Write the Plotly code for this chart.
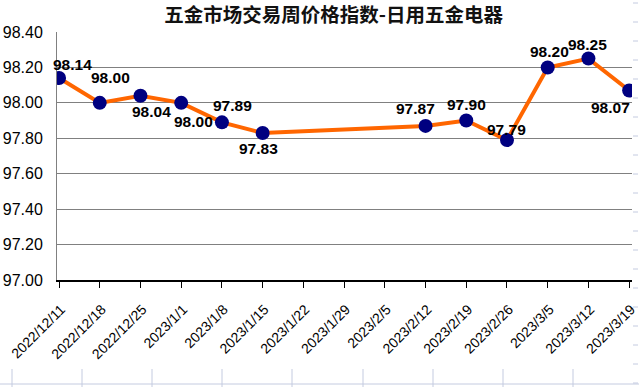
import plotly.graph_objects as go

# ---- data ----
categories = ["2022/12/11", "2022/12/18", "2022/12/25", "2023/1/1", "2023/1/8",
              "2023/1/15", "2023/1/22", "2023/1/29", "2023/2/5", "2023/2/12",
              "2023/2/19", "2023/2/26", "2023/3/5", "2023/3/12", "2023/3/19"]
values = [98.14, 98.00, 98.04, 98.00, 97.89, 97.83, None, None, None,
          97.87, 97.90, 97.79, 98.20, 98.25, 98.07]
y_ticks = [97.00, 97.20, 97.40, 97.60, 97.80, 98.00, 98.20, 98.40]
title_text = "五金市场交易周价格指数-日用五金电器"

# label offsets (pixels) per point: (dx, dy) ; style only
label_offsets = [(13, 14), (11, 25), (11, -16), (12, -19), (11, 17), (-4, -16),
                 None, None, None,
                 (-10, 17), (0, 16), (0, 11), (2, 16), (-1, 14), (-19, -17)]

x_idx = list(range(len(categories)))

W, H = 639, 387
ML, MR, MT, MB = 57, 7, 32, 107
PW, PH = W - ML - MR, H - MT - MB


def px_x(x):
    return (x - ML) / PW


def px_y(y):
    return (H - MB - y) / PH


fig = go.Figure()
fig.add_trace(go.Scatter(
    x=x_idx, y=values, mode="lines+markers", connectgaps=True,
    line=dict(color="#FF6600", width=4),
    marker=dict(color="#000080", size=14),
    hoverinfo="skip", showlegend=False,
))

annotations = []
for i, v in enumerate(values):
    if v is None:
        continue
    dx, dy = label_offsets[i]
    annotations.append(dict(
        x=i, y=v, xref="x", yref="y", text=f"{v:.2f}", showarrow=False,
        xshift=dx, yshift=dy,
        font=dict(family="Liberation Sans, Arial", size=15.5, color="black", weight="bold"),
    ))

# faint spreadsheet page-break artifacts
art = "#c4cbe0"
shapes = [dict(type="line", xref="paper", yref="paper", x0=px_x(0), x1=px_x(639),
               y0=px_y(384), y1=px_y(384), line=dict(color=art, width=1))]
for xp in [12, 82, 152, 222, 292, 363, 433, 503, 573]:
    shapes.append(dict(type="line", xref="paper", yref="paper", x0=px_x(xp), x1=px_x(xp),
                       y0=px_y(369), y1=px_y(387), line=dict(color=art, width=1)))
for k in range(21):
    yp = 3 + k * 19
    shapes.append(dict(type="line", xref="paper", yref="paper", x0=px_x(633), x1=px_x(638),
                       y0=px_y(yp), y1=px_y(yp), line=dict(color=art, width=1)))

fig.update_layout(
    width=W, height=H,
    margin=dict(l=ML, r=MR, t=MT, b=MB, autoexpand=False),
    paper_bgcolor="white", plot_bgcolor="white",
    title=dict(text=title_text, x=0.522, xanchor="center", y=0.962, yanchor="middle",
               font=dict(family="Noto Sans CJK SC", size=19.5, color="#111111", weight="bold")),
    xaxis=dict(
        type="linear", range=[-0.05, 14.07],
        tickmode="array", tickvals=x_idx, ticktext=categories,
        tickangle=-45, tickfont=dict(family="Liberation Sans, Arial", size=14, color="black"),
        ticks="outside", ticklen=6, tickcolor="black", tickwidth=1,
        ticklabelstandoff=8, ticklabelshift=2, ticklabeloverflow="allow",
        showline=True, linecolor="black", linewidth=1.5,
        showgrid=False, zeroline=False,
    ),
    yaxis=dict(
        range=[97.0, 98.4], tickmode="array", tickvals=y_ticks,
        ticktext=[f"{t:.2f}" for t in y_ticks],
        tickfont=dict(family="Liberation Sans, Arial", size=16, color="black"),
        ticks="", ticklabelstandoff=10,
        showline=True, linecolor="#808080", linewidth=1,
        showgrid=True, gridcolor="#808080", gridwidth=1,
        zeroline=False,
    ),
    annotations=annotations,
    shapes=shapes,
)

fig.write_html("out.html", config={"displayModeBar": False},
               post_script="document.body.style.margin='0';document.body.style.padding='0';")
